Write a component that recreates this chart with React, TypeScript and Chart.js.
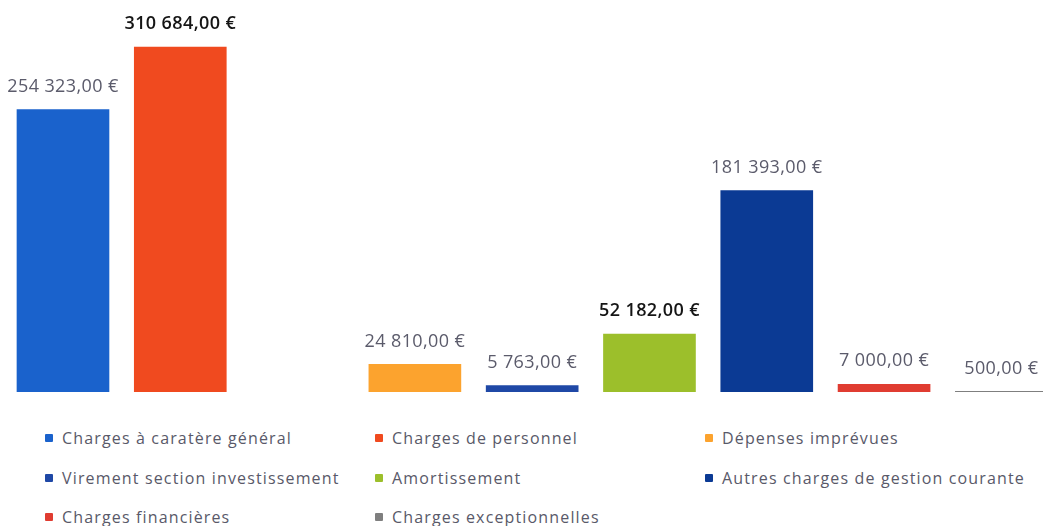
import React, { useEffect, useRef } from "react";
import { Chart, registerables } from "chart.js";

Chart.register(...registerables);

// Series (one bar each), in legend order
const seriesNames = [
  "Charges à caratère général",
  "Charges de personnel",
  "Dépenses imprévues",
  "Virement section investissement",
  "Amortissement",
  "Autres charges de gestion courante",
  "Charges financières",
  "Charges exceptionnelles",
];
const seriesValues = [254323, 310684, 24810, 5763, 52182, 181393, 7000, 500];
// slot index of each series along the category axis (slot 2 is empty)
const seriesSlots = [0, 1, 3, 4, 5, 6, 7, 8];
const valueLabels = [
  "254 323,00 €",
  "310 684,00 €",
  "24 810,00 €",
  "5 763,00 €",
  "52 182,00 €",
  "181 393,00 €",
  "7 000,00 €",
  "500,00 €",
];

const seriesColors = [
  "#1a62cc",
  "#f04a1f",
  "#fca32e",
  "#1f48a6",
  "#9cbf2b",
  "#0b3a94",
  "#e03c31",
  "#7f7f7f",
];
const labelColors = [
  "#5b5b6b",
  "#151515",
  "#5b5b6b",
  "#5b5b6b",
  "#151515",
  "#5b5b6b",
  "#5b5b6b",
  "#5b5b6b",
];
const labelWeights = ["400", "600", "400", "400", "600", "400", "400", "400"];

const legendColumns = [62, 392, 722];
const legendRows = [438, 478, 517];

const valueLabelPlugin = {
  id: "valueLabels",
  afterDatasetsDraw(chart: any) {
    const ctx = chart.ctx;
    ctx.save();
    chart.data.datasets.forEach((ds: any, i: number) => {
      const meta = chart.getDatasetMeta(i);
      const el = meta.data[0];
      if (!el) return;
      ctx.font = `${labelWeights[i]} 18px "Open Sans"`;
      try {
        ctx.letterSpacing = "0.4px";
      } catch (e) {}
      ctx.fillStyle = labelColors[i];
      ctx.textAlign = "center";
      ctx.textBaseline = "middle";
      ctx.fillText(valueLabels[i], el.x, el.y - 23);
    });
    ctx.restore();
  },
};

export default function App() {
  const canvasRef = useRef<HTMLCanvasElement | null>(null);

  useEffect(() => {
    if (!canvasRef.current) return;
    const chart = new Chart(canvasRef.current, {
      type: "bar",
      data: {
        datasets: seriesNames.map((name, i) => ({
          label: name,
          data: [{ x: seriesSlots[i], y: seriesValues[i] }],
          backgroundColor: seriesColors[i],
          barThickness: 92,
          grouped: false,
        })),
      },
      options: {
        animation: false,
        responsive: false,
        maintainAspectRatio: false,
        layout: { padding: 0 },
        plugins: {
          legend: { display: false },
          tooltip: { enabled: false },
        },
        scales: {
          x: {
            type: "linear",
            display: false,
            offset: false,
            min: -0.537,
            max: 8.355,
          },
          y: { display: false, min: 0, max: 353000 },
        },
      },
      plugins: [valueLabelPlugin],
    } as any);
    return () => chart.destroy();
  }, []);

  return (
    <div
      style={{
        position: "absolute",
        left: 0,
        top: 0,
        width: 1043,
        height: 526,
        background: "#ffffff",
        overflow: "hidden",
      }}
    >
      <canvas
        ref={canvasRef}
        width={1043}
        height={392}
        style={{ position: "absolute", left: 0, top: 0, width: 1043, height: 392 }}
      />
      {seriesNames.map((name, i) => {
        const col = i % 3;
        const row = Math.floor(i / 3);
        return (
          <div
            key={name}
            style={{
              position: "absolute",
              left: legendColumns[col] - 17,
              top: legendRows[row] - 11,
              height: 22,
              display: "flex",
              alignItems: "center",
              whiteSpace: "nowrap",
              fontFamily: '"Open Sans", sans-serif',
              fontSize: 16,
              letterSpacing: "1.15px",
              color: "#595969",
            }}
          >
            <span
              style={{
                display: "inline-block",
                width: 8,
                height: 8,
                borderRadius: 1,
                background: seriesColors[i],
                marginRight: 9,
              }}
            />
            {name}
          </div>
        );
      })}
    </div>
  );
}
